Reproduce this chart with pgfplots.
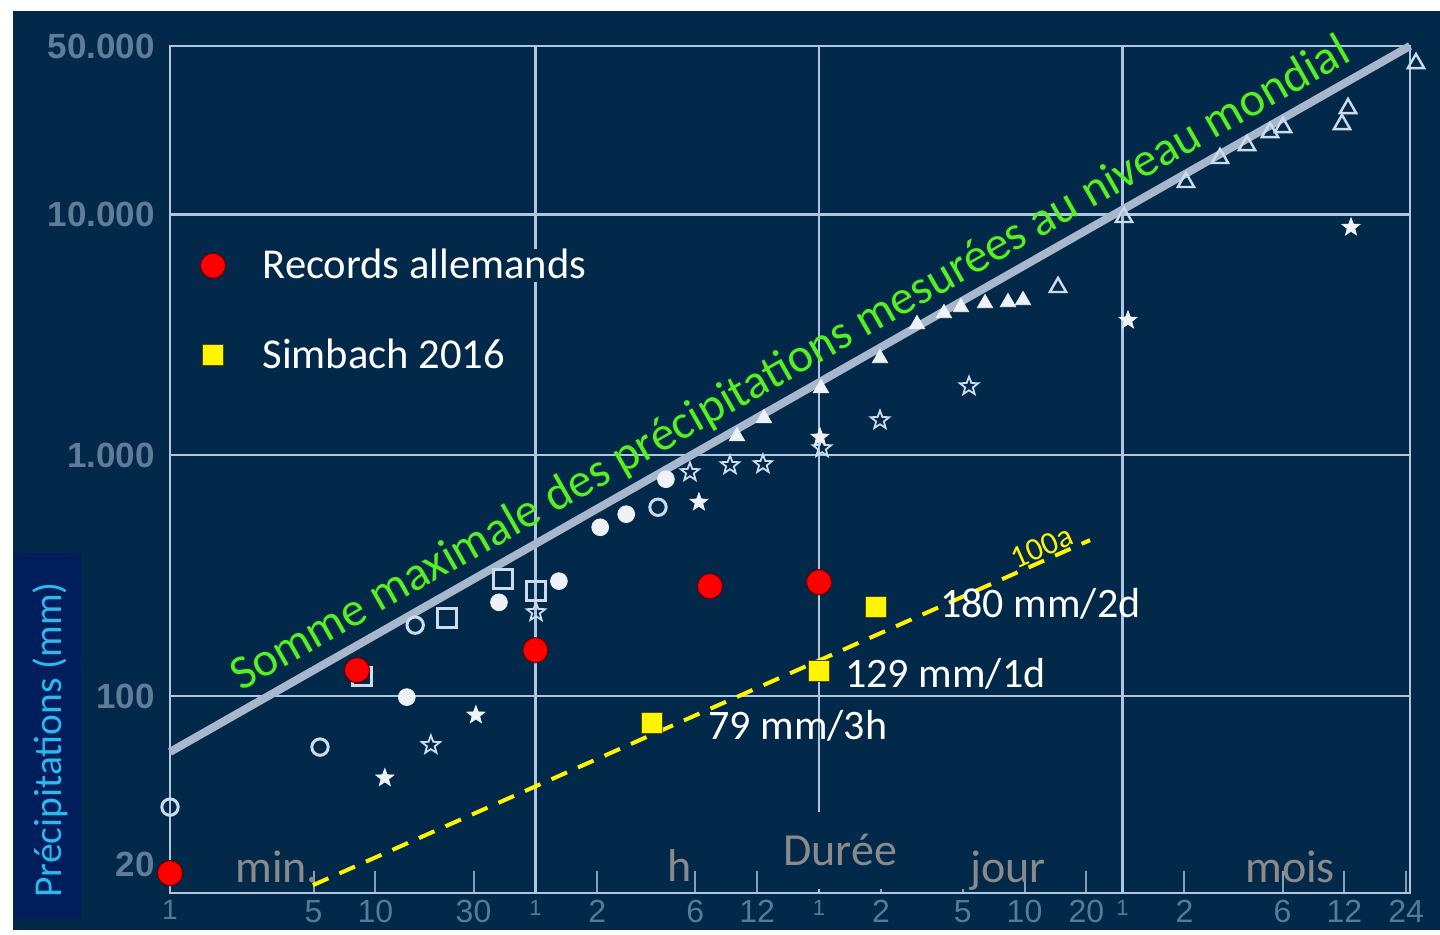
\documentclass[border=0pt]{standalone}
\usepackage{pgfplots}
\pgfplotsset{compat=1.18}
\usetikzlibrary{plotmarks}
\usepackage{fontspec}
\setmainfont{Carlito}
\newfontfamily\arialf{Liberation Sans}

\definecolor{bgnavy}{RGB}{2,41,74}
\definecolor{ylbox}{RGB}{1,30,92}
\definecolor{yltext}{RGB}{45,185,240}
\definecolor{gridc}{RGB}{175,198,222}
\definecolor{tickc}{RGB}{85,122,158}
\definecolor{ytickc}{RGB}{95,125,155}
\definecolor{graytxt}{RGB}{138,138,138}
\definecolor{maxline}{RGB}{168,184,204}
\definecolor{greentxt}{RGB}{85,240,35}
\definecolor{yel}{RGB}{255,245,0}
\definecolor{mwhite}{RGB}{238,242,248}
\definecolor{mopen}{RGB}{205,220,236}

\pgfdeclareplotmark{fstar}{%
 \pgfpathmoveto{\pgfqpointpolar{90}{\pgfplotmarksize}}%
 \pgfpathlineto{\pgfqpointpolar{126}{0.42\pgfplotmarksize}}%
 \pgfpathlineto{\pgfqpointpolar{162}{\pgfplotmarksize}}%
 \pgfpathlineto{\pgfqpointpolar{198}{0.42\pgfplotmarksize}}%
 \pgfpathlineto{\pgfqpointpolar{234}{\pgfplotmarksize}}%
 \pgfpathlineto{\pgfqpointpolar{270}{0.42\pgfplotmarksize}}%
 \pgfpathlineto{\pgfqpointpolar{306}{\pgfplotmarksize}}%
 \pgfpathlineto{\pgfqpointpolar{342}{0.42\pgfplotmarksize}}%
 \pgfpathlineto{\pgfqpointpolar{18}{\pgfplotmarksize}}%
 \pgfpathlineto{\pgfqpointpolar{54}{0.42\pgfplotmarksize}}%
 \pgfpathclose
 \pgfusepathqfillstroke}
\pgfdeclareplotmark{ostar}{%
 \pgfpathmoveto{\pgfqpointpolar{90}{\pgfplotmarksize}}%
 \pgfpathlineto{\pgfqpointpolar{126}{0.42\pgfplotmarksize}}%
 \pgfpathlineto{\pgfqpointpolar{162}{\pgfplotmarksize}}%
 \pgfpathlineto{\pgfqpointpolar{198}{0.42\pgfplotmarksize}}%
 \pgfpathlineto{\pgfqpointpolar{234}{\pgfplotmarksize}}%
 \pgfpathlineto{\pgfqpointpolar{270}{0.42\pgfplotmarksize}}%
 \pgfpathlineto{\pgfqpointpolar{306}{\pgfplotmarksize}}%
 \pgfpathlineto{\pgfqpointpolar{342}{0.42\pgfplotmarksize}}%
 \pgfpathlineto{\pgfqpointpolar{18}{\pgfplotmarksize}}%
 \pgfpathlineto{\pgfqpointpolar{54}{0.42\pgfplotmarksize}}%
 \pgfpathclose
 \pgfusepathqstroke}

\begin{document}
\begin{tikzpicture}[x=0.5pt,y=0.5pt]
\fill[white] (-170,-42) rectangle (1270,893);
\fill[bgnavy] (-157,-37) rectangle (1270,882);
\fill[ylbox] (-155,-25) rectangle (-89,340);
\node[rotate=90, text=yltext, font=\fontsize{19.75}{20}\selectfont] at (-120,153) {Précipitations (mm)};

\begin{axis}[
  at={(0,0)}, anchor=south west,
  scale only axis, width=620pt, height=423.5pt,
  xmode=log, ymode=log,
  xmin=1, xmax=1081700, ymin=15.22, ymax=50000,
  clip=false,
  axis line style={gridc, line width=1.2pt},
  tick pos=left, tick align=inside,
  major tick length=11pt,
  xminorticks=false, yminorticks=false,
  tick style={gridc!75!bgnavy, line width=1pt},
  major grid style={gridc, line width=1.2pt},
  xtick={5,10,30,120,360,720,2880,7200,14400,28800,86400,259200,518400,1036800},
  xticklabels={5,10,30,2,6,12,2,5,10,20,2,6,12,24},
  extra x ticks={1,60,1440,43200},
  extra x tick labels={{\fontsize{14}{14}\selectfont 1},{\fontsize{11}{11}\selectfont 1},{\fontsize{11}{11}\selectfont 1},{\fontsize{11}{11}\selectfont 1}},
  extra x tick style={grid=major, major tick length=0pt},
  xticklabel style={font=\arialf\fontsize{16}{16}\selectfont, text=tickc},
  ytick={100,1000,10000,50000},
  yticklabels={100,1.000,10.000,50.000},
  ymajorgrids=true,
  extra y ticks={20}, extra y tick labels={20},
  extra y tick style={grid=none, major tick length=0pt},
  ytick style={draw=none},
  yticklabel style={font=\arialf\bfseries\fontsize{17.5}{17.5}\selectfont, text=ytickc, xshift=-4pt},
  legend style={at={(0.0242,0.6877)}, anchor=west, draw=none, fill=none,
    inner sep=0pt, text=white, font=\fontsize{21.3}{22}\selectfont,
    row sep=28.5pt, nodes={inner sep=0pt, fill=bgnavy},
    /tikz/every odd column/.append style={column sep=18.5pt}},
  legend cell align=left,
]
% open circles
\addplot[only marks, mark=o, mark size=4.1pt, mark options={draw=mopen, line width=1.5pt}, forget plot]
 coordinates {(1,34.6) (5.37,61.4) (15.6,197) (237,608)};
% filled circles
\addplot[only marks, mark=*, mark size=4.2pt, mark options={fill=mwhite, draw=mwhite}, forget plot]
 coordinates {(14.2,99) (39.9,245) (78.1,300) (124,502) (166,569) (259,795)};
% open squares
\addplot[only marks, mark=square, mark size=4.6pt, mark options={draw=mopen, line width=1.4pt}, forget plot]
 coordinates {(8.6,121) (22.3,211) (41.7,306) (60.4,273)};
% open stars
\addplot[only marks, mark=ostar, mark size=4.8pt, mark options={draw=mopen, line width=0.9pt}, forget plot]
 coordinates {(18.6,62.6) (60.4,223) (339,850) (531,909) (768,918) (1489,1069) (2851,1397) (7731,1933)};
% filled stars
\addplot[only marks, mark=fstar, mark size=4.8pt, mark options={fill=mwhite, draw=mwhite, line width=0.3pt}, forget plot]
 coordinates {(11.1,45.7) (30.8,83.4) (375,638) (1455,1188) (45890,3633) (558500,8834)};
% filled triangles
\addplot[only marks, mark=triangle*, mark size=4.4pt, mark options={fill=mwhite, draw=mwhite}, forget plot]
 coordinates {(574,1199) (777,1424) (1472,1897) (2851,2526) (4315,3497) (5840,3884) (7066,4112) (9247,4272) (11962,4314) (14158,4398)};
% open triangles
\addplot[only marks, mark=triangle, mark size=4.7pt, mark options={draw=mopen, line width=1.2pt}, forget plot]
 coordinates {(20956,4980) (43880,9718) (87900,13580) (128700,17080) (174100,19330) (225300,21890) (260700,22960) (505000,23630) (540200,27540) (1157000,42330)};
% world maximum envelope
\addplot[maxline, line width=4pt, forget plot] coordinates {(1,58.6) (1081700,50000)};
% 100-year line
\addplot[yel, line width=2pt, dash pattern=on 8.5pt off 6pt, forget plot] coordinates {(4.96,16.4) (30000,444)};
% German records
\addplot[only marks, mark=*, mark size=6.3pt, mark options={fill=red, draw=black!60!red, line width=0.5pt}]
 coordinates {(1,18.4) (8.13,128) (60,155) (424,286) (1440,297)};
\addlegendentry{Records allemands}
% Simbach 2016
\addplot[only marks, mark=square*, mark size=5.3pt, mark options={fill=yel, draw=black!70!yel, line width=0.6pt}]
 coordinates {(222,77.3) (1440,127) (2726,234)};
\addlegendentry{Simbach 2016}
\end{axis}

\fill[bgnavy] (600,4) rectangle (735,81);
\fill[bgnavy] (785,4) rectangle (800,33);
\node[anchor=base west, inner sep=0pt, text=white, font=\fontsize{21}{21}\selectfont] at (770,275) {180 mm/2d};
\node[anchor=base west, inner sep=0pt, text=white, font=\fontsize{21}{21}\selectfont] at (675,205) {129 mm/1d};
\node[anchor=base west, inner sep=0pt, text=white, font=\fontsize{21}{21}\selectfont] at (538,153) {79 mm/3h};
\node[rotate=24, inner sep=0pt, text=yel, font=\fontsize{16}{16}\selectfont] at (872,346) {100a};
\node[rotate=29.6, anchor=base, inner sep=0pt, text=greentxt, font=\fontsize{24.1}{24}\selectfont] at (627,517) {Somme maximale des précipitations mesurées au niveau mondial};
\node[anchor=base west, inner sep=0pt, text=graytxt, font=\fontsize{23}{23}\selectfont] at (65,10) {min.};
\node[anchor=base west, inner sep=0pt, text=graytxt, font=\fontsize{23}{23}\selectfont] at (497,11) {h};
\node[anchor=base west, inner sep=0pt, text=graytxt, font=\fontsize{23}{23}\selectfont] at (613,27) {Durée};
\node[anchor=base west, inner sep=0pt, text=graytxt, font=\fontsize{23}{23}\selectfont] at (800,10) {jour};
\node[anchor=base west, inner sep=0pt, text=graytxt, font=\fontsize{23}{23}\selectfont] at (1075,10) {mois};
\end{tikzpicture}
\end{document}
